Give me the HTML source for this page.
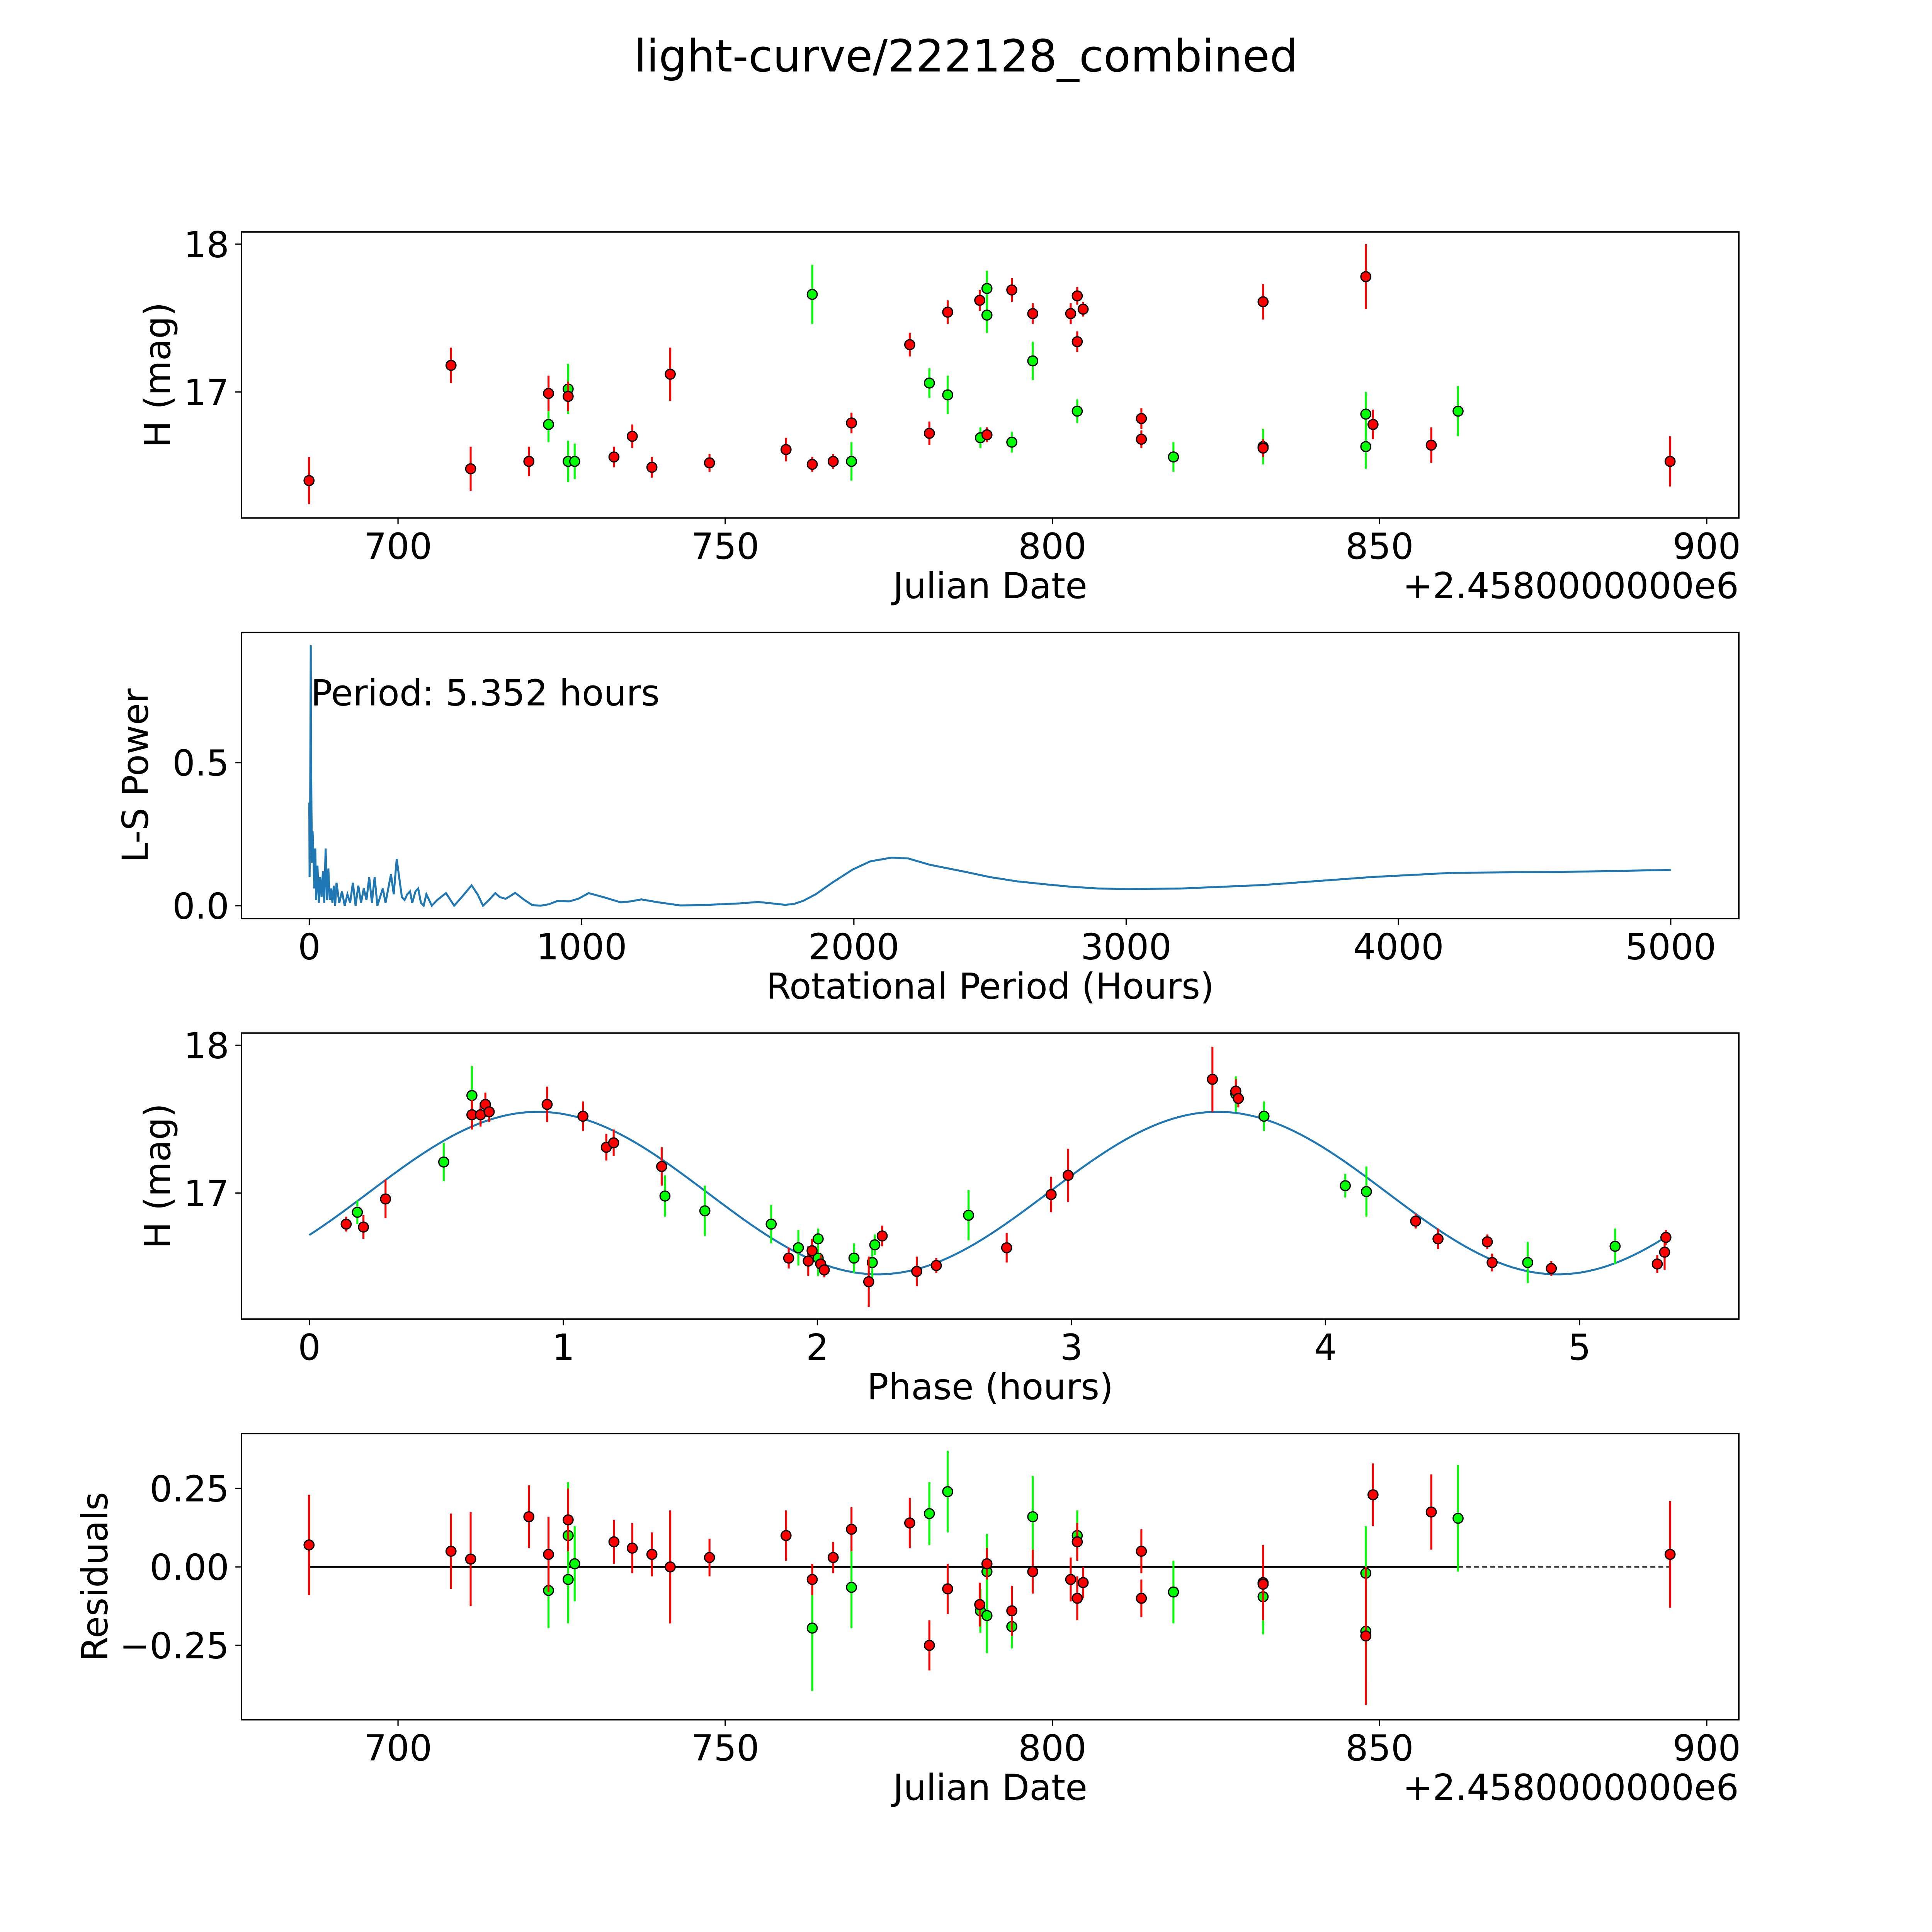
<!DOCTYPE html>
<html><head><meta charset="utf-8"><style>
html,body{margin:0;padding:0;background:#fff;overflow:hidden;width:100vw;height:100vh;}
svg{display:block;width:100vw;height:100vh;font-family:"DejaVu Sans","Liberation Sans",sans-serif;}
</style></head><body>
<svg id="fig" xmlns="http://www.w3.org/2000/svg" viewBox="0 0 1568 1568" preserveAspectRatio="xMidYMid meet">
<rect width="1568" height="1568" fill="#fff"/>
<text x="784" y="58" font-size="36" text-anchor="middle">light-curve/222128_combined</text>
</svg>
<script>
// ---------- data: light curve ----------
const redJD   = [686.4,708.1,711.1,720,723,726,733,735.8,738.8,741.6,747.6,759.3,763.3,766.5,769.3,778.2,781.2,784,788.9,790,793.8,797,802.8,803.8,803.8,804.7,813.6,813.6,832.2,832.2,847.9,849,857.9,894.4];
const redMag  = [16.4,17.18,16.48,16.53,16.99,16.97,16.56,16.7,16.49,17.12,16.52,16.61,16.51,16.53,16.79,17.32,16.72,17.54,17.62,16.71,17.69,17.53,17.53,17.65,17.34,17.56,16.82,16.68,17.61,16.62,17.78,16.78,16.64,16.53];
const redErr  = [0.16,0.12,0.15,0.1,0.12,0.1,0.07,0.08,0.07,0.18,0.06,0.08,0.05,0.05,0.07,0.08,0.08,0.08,0.07,0.05,0.08,0.07,0.07,0.06,0.07,0.05,0.07,0.06,0.12,0.06,0.22,0.1,0.12,0.17];
const grnJD   = [723,726,726,727,763.3,769.3,781.2,784,789,790,790,793.8,797,803.8,818.5,832.2,847.9,847.9,862];
const grnMag  = [16.78,17.02,16.53,16.53,17.66,16.53,17.06,16.98,16.69,17.7,17.52,16.66,17.21,16.87,16.56,16.63,16.85,16.63,16.87];
const grnErr  = [0.12,0.17,0.14,0.12,0.2,0.13,0.1,0.13,0.07,0.12,0.12,0.07,0.13,0.08,0.1,0.12,0.15,0.15,0.17];
// ---------- data: residuals ----------
const redRes  = [0.07,0.05,0.025,0.16,0.04,0.15,0.08,0.06,0.04,0,0.03,0.1,-0.04,0.03,0.12,0.14,-0.25,-0.07,-0.12,0.01,-0.14,-0.015,-0.04,0.08,-0.1,-0.05,0.05,-0.1,-0.05,-0.055,-0.22,0.23,0.175,0.04];
const grnRes  = [-0.075,0.1,-0.04,0.01,-0.195,-0.065,0.17,0.24,-0.14,-0.015,-0.155,-0.19,0.16,0.1,-0.08,-0.095,-0.02,-0.205,0.155];
// ---------- data: phase folded ----------
const redPhase = [0.145,0.213,0.30,0.64,0.674,0.693,0.708,0.936,1.077,1.169,1.198,1.387,1.887,1.964,1.979,2.013,2.027,2.202,2.255,2.391,2.468,2.745,2.92,2.987,3.555,3.647,3.657,4.355,4.443,4.637,4.656,4.889,5.306,5.335,5.34];
const redPMag  = [16.79,16.77,16.96,17.53,17.53,17.6,17.55,17.6,17.52,17.31,17.34,17.18,16.56,16.54,16.61,16.52,16.48,16.4,16.71,16.47,16.51,16.63,16.99,17.12,17.77,17.69,17.64,16.81,16.69,16.67,16.53,16.49,16.52,16.6,16.7];
const redPErr  = [0.05,0.08,0.13,0.1,0.08,0.08,0.07,0.12,0.1,0.09,0.09,0.13,0.07,0.1,0.08,0.06,0.05,0.17,0.07,0.1,0.05,0.1,0.12,0.18,0.22,0.08,0.06,0.05,0.07,0.05,0.06,0.05,0.06,0.12,0.05];
const grnPhase = [0.189,0.529,0.64,1.4,1.557,1.818,1.925,2.003,2.003,2.144,2.216,2.226,2.595,3.647,3.758,4.078,4.161,4.796,5.14];
const grnPMag  = [16.87,17.21,17.66,16.98,16.88,16.79,16.63,16.69,16.56,16.56,16.53,16.65,16.85,17.67,17.52,17.05,17.01,16.53,16.64];
const grnPErr  = [0.08,0.13,0.2,0.14,0.17,0.13,0.12,0.07,0.12,0.1,0.12,0.07,0.17,0.12,0.1,0.08,0.17,0.14,0.12];
// fit model parameters: mean, amplitude, peak phase, half-period
const fitParams = [17.0, 0.55, 0.9, 2.676];
const fitRange  = [0, 5.352];
// ---------- data: periodogram ----------
const lsPeriod = [0,1,3,5.35,6,8,10,12,15,18,22,25,30,35,40,45,50,55,60,65,70,75,80,85,90,95,100,110,120,130,140,150,160,170,180,190,200,210,220,230,240,250,260,270,280,290,300,310,321,330,340,350,360,370,378,390,400,410,420,430,440,450,470,502,532,560,596,618,638,660,683,700,721,740,756,790,819,849,880,910,955,990,1026,1080,1143,1180,1219,1280,1362,1440,1513,1580,1649,1700,1747,1780,1814,1860,1920,1995,2060,2139,2200,2279,2400,2500,2600,2700,2800,2900,3000,3200,3500,3900,4200,4600,5000];
const lsPower  = [0.36,0.1,0.3,0.91,0.6,0.33,0.15,0.26,0.19,0.06,0.2,0.02,0.14,0.01,0.1,0.03,0.12,0.01,0.2,0.02,0.13,0.02,0.06,0.01,0.07,0,0.08,0.01,0.05,0,0.04,0.01,0.08,0,0.07,0.01,0.06,0.02,0.1,0.01,0.1,0,0.03,0.06,0.01,0.06,0.11,0.04,0.163,0.1,0.03,0.02,0.04,0.05,0.01,0.05,0.06,0.01,0,0.04,0.02,0,0.02,0.044,0,0.03,0.071,0.04,0,0.02,0.044,0.03,0.024,0.035,0.045,0.02,0.002,0,0.005,0.016,0.015,0.025,0.044,0.03,0.012,0.015,0.022,0.012,0.001,0.002,0.005,0.008,0.013,0.008,0.003,0.006,0.017,0.04,0.08,0.126,0.155,0.168,0.165,0.143,0.12,0.1,0.085,0.075,0.066,0.06,0.058,0.06,0.072,0.1,0.115,0.118,0.125];
// tick labels
const jdTicks    = [700,750,800,850,900];
const magTicks   = [17,18];
const lsXTicks   = [0,1000,2000,3000,4000,5000];
const lsYTicks   = [0.0,0.5];
const phaseTicks = [0,1,2,3,4,5];
const resTicks   = [-0.25,0,0.25];

const NS="http://www.w3.org/2000/svg";
const svg=document.getElementById('fig');
function mk(tag,attrs,parent){const e=document.createElementNS(NS,tag);for(const k in attrs)e.setAttribute(k,attrs[k]);(parent||svg).appendChild(e);return e;}
const L=196,W=1215.2,H=232.2,FS=29;
const tops=[188.2,513.3,838.4,1163.5];
const ylabX=[138,120,138,87];
function scale(d0,d1,r0,r1){return v=>r0+(v-d0)*(r1-r0)/(d1-d0);}

function axes(i,xd,yd,xt,yt,xfmt,yfmt,xlabel,ylabel,name){
  const t=tops[i],b=t+H;
  const g=mk('g',{});
  
  
  const sx=scale(xd[0],xd[1],L,L+W), sy=scale(yd[0],yd[1],b,t);
  const clip=mk('clipPath',{id:'c'+i},g); mk('rect',{x:L,y:t,width:W,height:H},clip);
  const plot=mk('g',{'clip-path':'url(#c'+i+')'},g);
  xt.forEach(v=>{const x=sx(v);mk('line',{x1:x,x2:x,y1:b,y2:b+5,stroke:'#000','stroke-width':1},g);
    const tx=mk('text',{x:x,y:b+33,'font-size':FS,'text-anchor':'middle'},g);tx.textContent=xfmt(v);
    
    });
  yt.forEach(v=>{const y=sy(v);mk('line',{x1:L-5,x2:L,y1:y,y2:y,stroke:'#000','stroke-width':1},g);
    const tx=mk('text',{x:L-10,y:y+10.5,'font-size':FS,'text-anchor':'end'},g);tx.textContent=yfmt(v);
    
    });
  const xl=mk('text',{x:L+W/2,y:b+65,'font-size':FS,'text-anchor':'middle'},g);xl.textContent=xlabel;
  
  
  const yl=mk('text',{x:0,y:0,'font-size':FS,'text-anchor':'middle',transform:`translate(${ylabX[i]},${t+H/2}) rotate(-90)`},g);yl.textContent=ylabel;
  
  
  return {g,plot,sx,sy,t,b};
}
function frame(a){mk('rect',{x:L,y:a.t,width:W,height:H,fill:'none',stroke:'#000','stroke-width':1.2},a.g);}
function points(a,xs,ys,es,color,name){
  xs.forEach((x,k)=>{mk('line',{x1:a.sx(x),x2:a.sx(x),y1:a.sy(ys[k]-es[k]),y2:a.sy(ys[k]+es[k]),stroke:color,'stroke-width':1.6},a.plot);});
  xs.forEach((x,k)=>{const c=mk('circle',{cx:a.sx(x),cy:a.sy(ys[k]),r:4,fill:color,stroke:'#000','stroke-width':1},a.plot);
    
    });
}
const jdOff=t=>String(t);
const xJD=[676.08,904.9];
function offsetText(a){const o=mk('text',{x:L+W,y:a.b+65,'font-size':FS,'text-anchor':'end'},a.g);o.textContent='+2.4580000000e6';
  
  }

// Panel 1
const a1=axes(0,xJD,[16.147,18.083],jdTicks,magTicks,jdOff,v=>String(v),'Julian Date','H (mag)','light-curve-panel');
points(a1,grnJD,grnMag,grnErr,'#00ff00','green-point');
points(a1,redJD,redMag,redErr,'#ff0000','red-point');
frame(a1);offsetText(a1);

// Panel 2
const a2=axes(1,[-249,5250],[-0.045,0.955],lsXTicks,lsYTicks,v=>String(v),v=>v.toFixed(1),'Rotational Period (Hours)','L-S Power','periodogram-panel');
const pp=mk('polyline',{points:lsPeriod.map((p,k)=>a2.sx(p)+','+a2.sy(lsPower[k])).join(' '),fill:'none',stroke:'#1f77b4','stroke-width':1.6},a2.plot);


const pt=mk('text',{x:a2.sx(5.35),y:a2.sy(0.70),'font-size':FS},a2.g);pt.textContent='Period: 5.352 hours';


frame(a2);

// Panel 3
const a3=axes(2,[-0.267,5.627],[16.147,18.083],phaseTicks,magTicks,v=>String(v),v=>String(v),'Phase (hours)','H (mag)','phase-panel');
const fp=[];for(let k=0;k<=200;k++){const ph=fitRange[0]+(fitRange[1]-fitRange[0])*k/200;
  const m=fitParams[0]+fitParams[1]*Math.cos(2*Math.PI*(ph-fitParams[2])/fitParams[3]);fp.push(a3.sx(ph)+','+a3.sy(m));}
const fl=mk('polyline',{points:fp.join(' '),fill:'none',stroke:'#1f77b4','stroke-width':1.6},a3.plot);


points(a3,grnPhase,grnPMag,grnPErr,'#00ff00','green-phase-point');
points(a3,redPhase,redPMag,redPErr,'#ff0000','red-phase-point');
frame(a3);

// Panel 4
const a4=axes(3,xJD,[-0.487,0.425],jdTicks,resTicks,jdOff,v=>(v<0?'\u2212':'')+Math.abs(v).toFixed(2),'Julian Date','Residuals','residuals-panel');
const lastG=Math.max(...grnJD), firstJ=Math.min(...redJD,...grnJD), lastJ=Math.max(...redJD,...grnJD);
const z1=mk('line',{x1:a4.sx(firstJ),x2:a4.sx(lastG),y1:a4.sy(0),y2:a4.sy(0),stroke:'#000','stroke-width':1.5},a4.plot);


const z2=mk('line',{x1:a4.sx(lastG),x2:a4.sx(lastJ),y1:a4.sy(0),y2:a4.sy(0),stroke:'#000','stroke-width':1,'stroke-dasharray':'4,2.5'},a4.plot);


points(a4,grnJD,grnRes,grnErr,'#00ff00','green-residual');
points(a4,redJD,redRes,redErr,'#ff0000','red-residual');
frame(a4);offsetText(a4);
</script>
</body></html>
